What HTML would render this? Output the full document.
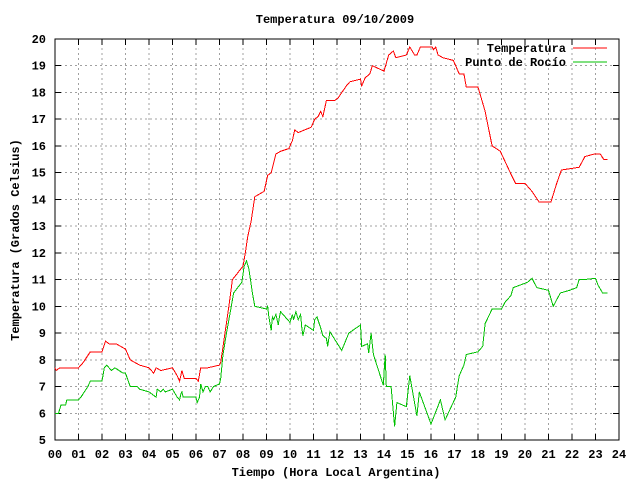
<!DOCTYPE html>
<html><head><meta charset="utf-8"><style>
body{margin:0;background:#fff}
svg{display:block}
line,path,rect,polyline{shape-rendering:crispEdges}
text{font-family:"Liberation Mono","DejaVu Sans Mono",monospace;font-weight:bold;font-size:12px;fill:#000}
</style></head><body>
<svg id="chart" width="640" height="480" viewBox="0 0 640 480">
<text x="335" y="23" text-anchor="middle">Temperatura 09/10/2009</text>
<text transform="translate(19,240) rotate(-90)" text-anchor="middle">Temperatura (Grados Celsius)</text>
<text x="336" y="476" text-anchor="middle">Tiempo (Hora Local Argentina)</text>
<g id="grid"></g><g id="axes"></g><g id="series"></g>
<g>
<text x="566" y="52" text-anchor="end">Temperatura</text>
<line x1="573" y1="48" x2="607" y2="48" stroke="#ff0000" stroke-width="1"/>
<text x="566" y="66" text-anchor="end">Punto de Rocío</text>
<line x1="573" y1="62" x2="607" y2="62" stroke="#00c000" stroke-width="1"/>
</g>
</svg>
<script>
const xTicks=["00","01","02","03","04","05","06","07","08","09","10","11","12","13","14","15","16","17","18","19","20","21","22","23","24"];
const yTicks=[5,6,7,8,9,10,11,12,13,14,15,16,17,18,19,20];
const tempHours=[0,0.05,0.2,1.0,1.2,1.5,2.0,2.15,2.3,2.6,3.0,3.2,3.4,3.6,4.0,4.2,4.3,4.5,5.0,5.2,5.3,5.4,5.5,6.0,6.1,6.2,6.5,7.0,7.05,7.2,7.4,7.55,8.0,8.1,8.2,8.35,8.5,8.9,9.05,9.2,9.4,9.6,9.95,10.1,10.2,10.35,10.9,11.05,11.2,11.3,11.4,11.55,11.9,12.05,12.4,12.55,13.0,13.05,13.2,13.4,13.5,14.0,14.2,14.4,14.5,14.95,15.1,15.3,15.4,15.55,16.05,16.1,16.2,16.3,16.5,16.95,17.2,17.4,17.5,18.0,18.3,18.6,18.95,19.4,19.6,20.0,20.3,20.6,21.1,21.35,21.55,22.3,22.55,22.95,23.2,23.35,23.5];
const tempValues=[7.7,7.6,7.7,7.7,7.9,8.3,8.3,8.7,8.6,8.6,8.4,8.0,7.9,7.8,7.7,7.5,7.7,7.6,7.7,7.4,7.2,7.6,7.3,7.3,7.2,7.7,7.7,7.8,7.9,8.8,10.0,11.0,11.5,12.0,12.6,13.2,14.1,14.3,14.9,15.0,15.7,15.8,15.9,16.2,16.6,16.5,16.7,17.0,17.1,17.3,17.1,17.7,17.7,17.8,18.25,18.4,18.5,18.25,18.55,18.7,19.0,18.8,19.4,19.55,19.3,19.4,19.7,19.4,19.4,19.7,19.7,19.6,19.7,19.4,19.3,19.2,18.7,18.7,18.2,18.2,17.3,16.0,15.8,14.95,14.6,14.6,14.3,13.9,13.9,14.6,15.1,15.2,15.6,15.7,15.7,15.5,15.5];
const dewHours=[0,0.15,0.25,0.45,0.5,1.0,1.1,1.4,1.5,2.0,2.1,2.2,2.4,2.55,2.9,3.0,3.2,3.5,3.6,4.0,4.3,4.35,4.5,4.6,4.7,5.0,5.2,5.3,5.35,5.4,5.45,6.0,6.05,6.15,6.2,6.3,6.4,6.5,6.6,6.75,7.0,7.05,7.15,7.3,7.5,7.6,7.95,8.05,8.15,8.25,8.4,8.5,9.0,9.05,9.1,9.2,9.25,9.3,9.4,9.5,9.55,9.6,10.0,10.1,10.15,10.25,10.35,10.45,10.5,10.55,10.65,11.0,11.05,11.15,11.3,11.4,11.55,11.6,11.7,12.2,12.5,13.0,13.05,13.3,13.35,13.45,13.55,13.97,14.05,14.1,14.3,14.45,14.55,14.95,15.1,15.4,15.5,16.0,16.4,16.6,17.05,17.2,17.4,17.5,18.0,18.2,18.3,18.6,19.0,19.15,19.4,19.5,20.1,20.3,20.5,21.0,21.2,21.5,21.9,22.2,22.3,22.5,23.0,23.1,23.3,23.5];
const dewValues=[6.0,6.0,6.3,6.3,6.5,6.5,6.6,7.0,7.2,7.2,7.7,7.8,7.6,7.7,7.5,7.5,7.0,7.0,6.9,6.8,6.6,6.9,6.8,6.9,6.8,6.9,6.6,6.5,6.7,6.8,6.6,6.6,6.4,6.6,7.1,6.8,7.0,7.0,6.8,7.0,7.1,7.3,8.2,9.0,10.0,10.5,10.9,11.5,11.7,11.4,10.5,10.0,9.9,10.0,9.6,9.1,9.6,9.5,9.7,9.3,9.6,9.8,9.4,9.7,9.5,9.8,9.5,9.7,9.2,8.9,9.3,9.1,9.5,9.6,9.2,8.9,8.8,8.5,9.05,8.35,9.0,9.3,8.5,8.6,8.25,9.0,8.2,7.05,8.2,7.0,7.0,5.5,6.4,6.25,7.4,5.9,6.8,5.6,6.5,5.75,6.6,7.4,7.8,8.2,8.3,8.5,9.35,9.9,9.9,10.15,10.4,10.7,10.9,11.05,10.7,10.6,10.0,10.5,10.6,10.7,11.0,11.0,11.05,10.8,10.5,10.5];
const X0=55,X1=619,Y0=440,Y1=39;
const xs=h=>X0+(X1-X0)*h/24;
const ys=v=>Y0-(Y0-Y1)*(v-5)/15;
const NS="http://www.w3.org/2000/svg";
function mk(tag,parent,attrs){const e=document.createElementNS(NS,tag);for(const k in attrs)e.setAttribute(k,attrs[k]);parent.appendChild(e);return e;}
const grid=document.getElementById('grid'),axes=document.getElementById('axes'),series=document.getElementById('series');
xTicks.forEach((t,i)=>{const x=xs(i);
 if(i>0&&i<24){const g=mk('line',grid,{x1:x,y1:Y0,x2:x,y2:Y1,stroke:'#a0a0a0','stroke-dasharray':'2,3'});
 
 }
 const tk=mk('path',axes,{d:`M${x},${Y0}v-6M${x},${Y1}v6`,stroke:'#000'});
 
 
 const lb=mk('text',axes,{x:x,y:458,'text-anchor':'middle'});lb.textContent=t;
 
 
});
yTicks.forEach(v=>{const y=ys(v);
 if(v>5&&v<20){const g=mk('line',grid,{x1:X0,y1:y,x2:X1,y2:y,stroke:'#a0a0a0','stroke-dasharray':'2,3'});
 
 }
 const tk=mk('path',axes,{d:`M${X0},${y}h6M${X1},${y}h-6`,stroke:'#000'});
 
 
 const lb=mk('text',axes,{x:46,y:y+4,'text-anchor':'end'});lb.textContent=v;
 
 
});
const fr=mk('rect',axes,{x:X0,y:Y1,width:X1-X0,height:Y0-Y1,fill:'none',stroke:'#000'});


function line(hs,vs,color,name){const pts=hs.map((h,i)=>xs(h).toFixed(1)+','+ys(vs[i]).toFixed(1)).join(' ');
 const p=mk('polyline',series,{points:pts,fill:'none',stroke:color,'stroke-width':1});
 
 }
line(tempHours,tempValues,'#ff0000','temperatura-line');
line(dewHours,dewValues,'#00c000','punto-de-rocio-line');
</script>
</body></html>
